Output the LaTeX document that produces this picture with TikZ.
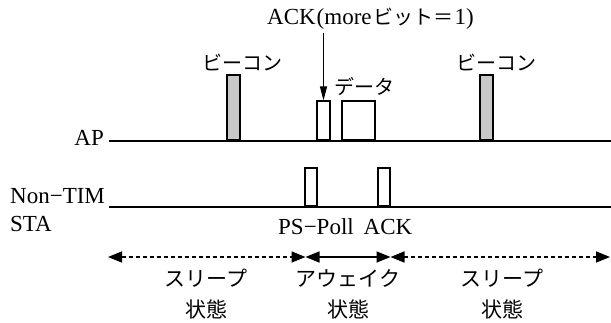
\documentclass[tikz,border=0pt]{standalone}
\usepackage{fontspec}
\setmainfont{Liberation Serif}
\newfontfamily\cjk{Noto Sans CJK JP}
\usetikzlibrary{arrows.meta}
\definecolor{beacongray}{RGB}{200,200,200}
\begin{document}
\begin{tikzpicture}[x=1pt,y=-1pt,
  lbl/.style={font=\fontsize{23}{27}\selectfont, inner sep=0pt},
  jlbl/.style={font=\fontsize{20}{32}\selectfont\cjk, inner sep=0pt, align=center},
  frame/.style={draw, line width=1.5pt, inner sep=0pt, anchor=south, fill=white},
  beacon/.style={frame, fill=beacongray, minimum width=13pt, minimum height=65pt},
  axisline/.style={line width=1.3pt},
  span/.style={line width=1.5pt, {Triangle[length=14pt,width=11pt]}-{Triangle[length=14pt,width=11pt]}},
  spandash/.style={span, dash pattern=on 4pt off 3pt}
]
\useasboundingbox (0,0) rectangle (611,323);

% time lines
\coordinate (apL) at (109,141);
\coordinate (apR) at (611,141);
\coordinate (staL) at (109,207);
\coordinate (staR) at (611,207);
\draw[axisline] (apL) -- (apR);
\draw[axisline] (staL) -- (staR);

% AP frames
\node[beacon] (b1) at (233.5,141) {};
\node[beacon] (b2) at (486.5,141) {};
\node[frame, minimum width=13pt, minimum height=39pt] (ackap) at (323.5,141) {};
\node[frame, minimum width=33pt, minimum height=39pt] (data) at (358.5,141) {};

% STA frames
\node[frame, minimum width=12pt, minimum height=38pt] (ps) at (311,207) {};
\node[frame, minimum width=12pt, minimum height=38pt] (acksta) at (384,207) {};

% labels
\node[lbl, anchor=base east] (ap) at (104,146) {AP};
\node[lbl, anchor=base west] (non) at (10,204) {Non−TIM};
\node[lbl, anchor=base west] (sta) at (10,232) {STA};
\node[jlbl] (bl1) at (242,62) {ビーコン};
\node[jlbl] (bl2) at (496,62) {ビーコン};
\node[jlbl] (dl) at (364,87) {データ};
\node[lbl, anchor=base] (psl) at (316,235) {PS−Poll};
\node[lbl, anchor=base] (ackl) at (388,235) {ACK};
\node[lbl, anchor=base west] (top) at (267,25) {ACK\kern1pt(more\kern2pt{\cjk\fontsize{20}{24}\selectfont ビット＝}\kern1pt 1)};

\coordinate (arrtop) at (323.5,33);
\draw[line width=1pt, -{Triangle[length=14pt,width=7pt]}] (arrtop) -- (ackap.north);

% state spans
\coordinate (s0) at (108,257);
\coordinate (s1) at (305.5,257);
\coordinate (s2) at (390.5,257);
\coordinate (s3) at (610,257);
\draw[spandash] (s0) -- (s1);
\draw[span] (s1) -- (s2);
\draw[spandash] (s2) -- (s3);

\node[jlbl, font=\fontsize{21}{31}\selectfont\cjk] (st1) at (206,294) {スリープ\\状態};
\node[jlbl, font=\fontsize{21}{31}\selectfont\cjk] (st2) at (348,294) {アウェイク\\状態};
\node[jlbl, font=\fontsize{21}{31}\selectfont\cjk] (st3) at (502,294) {スリープ\\状態};
\end{tikzpicture}
\end{document}
